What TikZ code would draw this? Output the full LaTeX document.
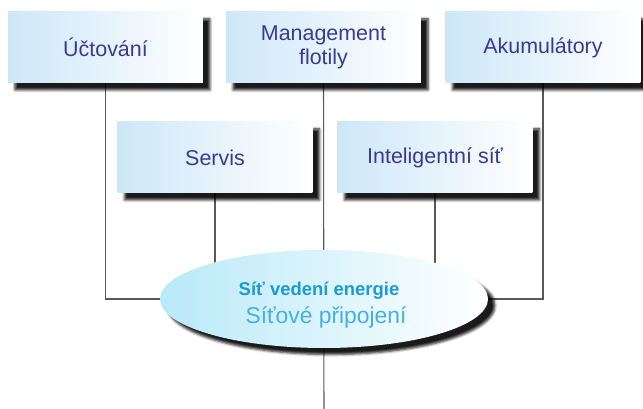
\documentclass[tikz,border=0pt]{standalone}
\usepackage{fontspec}
\setmainfont{Liberation Sans}
\usepackage{tikz}
\usetikzlibrary{positioning, shapes, shadows.blur, backgrounds}
\usepackage{xcolor}
\definecolor{textblue}{HTML}{3A3A96}
\definecolor{hubblue}{HTML}{1C9AD8}
\definecolor{hublight}{HTML}{45B0E6}
\definecolor{boxblue}{HTML}{CDE7F8}

\begin{document}
\begin{tikzpicture}[
    box/.style={rectangle, minimum width=3.9cm, minimum height=1.42cm, align=center,
        left color=boxblue, right color=white, text=textblue,
        font=\fontsize{12.2}{13.5}\selectfont,
        blur shadow={shadow xshift=.14cm, shadow yshift=-.14cm, shadow opacity=90, shadow blur radius=.05cm}}, % bloky s textem
    hub/.style={ellipse, minimum width=6.56cm, minimum height=1.96cm, align=center,
        left color=boxblue!90!cyan, right color=white,
        blur shadow={shadow xshift=.14cm, shadow yshift=-.13cm, shadow opacity=90, shadow blur radius=.05cm}},
    link/.style={draw=black!65, line width=.6pt}
    ]
\useasboundingbox (0,0) rectangle (12.86,8.18);

\node[box] (uc) at (2.11,7.23) {Účtování};
\node[box] (mg) at (6.47,7.23) {Management\\flotily};
\node[box] (ak) at (10.86,7.23) {Akumulátory};

\node[box] (se) at (4.30,5.03) {Servis};
\node[box] (is) at (8.70,5.03) {Inteligentní síť};

\node[hub] (sit) at (6.48,2.2) {};
\node[text=hubblue, font=\bfseries\fontsize{10.5}{12}\selectfont] (sv) at (6.38,2.36) {Síť vedení energie};
\node[text=hublight, font=\fontsize{13}{14}\selectfont] (sp) at (6.52,1.84) {Síťové připojení};

\coordinate (dole) at (6.48,0);

\begin{scope}[on background layer]
\draw[link] (uc.south) |- (sit.center);
\draw[link] (ak.south) |- (sit.center);
\draw[link] (mg.south) -- (dole);
\draw[link] (se.south) -- (se.south |- sit.center);
\draw[link] (is.south) -- (is.south |- sit.center);
\end{scope}
\end{tikzpicture}
\end{document}
